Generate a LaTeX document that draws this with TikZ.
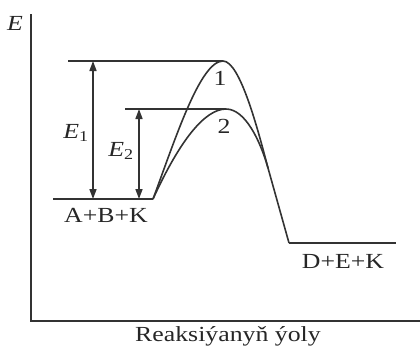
\documentclass[tikz,border=0pt]{standalone}
\usepackage{fontspec}
\setmainfont[FakeStretch=1.2]{Liberation Serif}
\usetikzlibrary{arrows.meta}
\begin{document}
\begin{tikzpicture}[x=1pt,y=-1pt,
  ln/.style={line width=1.6pt,draw=black!80},
  dbl/.style={ln,{Triangle[width=7pt,length=10pt]}-{Triangle[width=7pt,length=10pt]}},
  lbl/.style={inner sep=0pt,font=\fontsize{21.5}{26}\selectfont,text=black!85}]
\useasboundingbox (0,0) rectangle (420,349);
% axes
\coordinate (ytop) at (31,14);
\coordinate (orig) at (31,321);
\coordinate (xend) at (420,321);
\draw[ln] (ytop) -- (orig) -- (xend);
\node[lbl] (E) at (15,23) {\itshape E};
\node[lbl] (xlab) at (228,336) {Reaksiýanyň ýoly};
% levels
\coordinate (b0) at (53,199);
\coordinate (b1) at (153,199);
\coordinate (p1) at (223,61);
\coordinate (p2) at (226,109);
\coordinate (t1) at (68,61);
\coordinate (t2) at (125,109);
\coordinate (m) at (268,168);
\coordinate (r0) at (289,243);
\coordinate (r1) at (396,243);
\draw[ln] (b0) -- (b1);
\draw[ln] (t1) -- (p1);
\draw[ln] (t2) -- (p2);
\draw[ln] (r0) -- (r1);
% curves
\draw[ln] (b1) .. controls (175,140) and (200,61) .. (p1)
  .. controls (240,61) and (258,130) .. (m) -- (r0);
\draw[ln] (b1) .. controls (180,140) and (205,109) .. (p2)
  .. controls (245,109) and (260,140) .. (m);
% arrows
\coordinate (a1t) at (93,61);
\coordinate (a1b) at (93,199);
\coordinate (a2t) at (139,109);
\coordinate (a2b) at (139,199);
\draw[dbl] (a1b) -- (a1t);
\draw[dbl] (a2b) -- (a2t);
% labels
\node[lbl] (E1) at (76,133) {\itshape E\/\textsubscript{\upshape 1}};
\node[lbl] (E2) at (121,151) {\itshape E\/\textsubscript{\upshape 2}};
\node[lbl] (l1) at (220,78) {1};
\node[lbl] (l2) at (224,126) {2};
\node[lbl] (abk) at (106,215) {A+B+K};
\node[lbl] (dek) at (343,261) {D+E+K};
\end{tikzpicture}
\end{document}
